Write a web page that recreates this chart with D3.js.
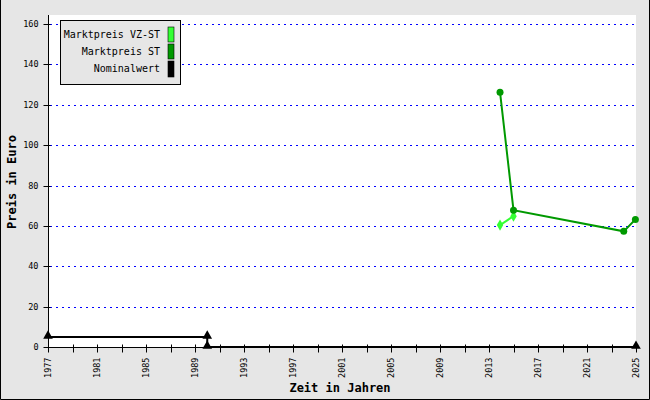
<!DOCTYPE html>
<html><head><meta charset="utf-8">
<script src="https://cdn.jsdelivr.net/npm/d3@7"></script>
<style>body{margin:0;background:#fff}svg{display:block}</style>
</head><body>
<script>
const seriesNames = ["Marktpreis VZ-ST", "Marktpreis ST", "Nominalwert"];
const seriesColors = ["#33ff33", "#009900", "#000000"];
const vzYears = [2013.9, 2015.0];
const vzValues = [60.4, 64.8];
const stYears = [2013.9, 2015.0, 2024.0, 2024.95];
const stValues = [126.2, 67.8, 57.3, 63.2];
const nomYears = [1977, 1990, 1990, 2025];
const nomValues = [5, 5, 0, 0];
const yTicks = [0, 20, 40, 60, 80, 100, 120, 140, 160];
const xTickYears = d3.range(1977, 2026, 2);
const xLabelYears = d3.range(1977, 2026, 4);

const W = 650, H = 400;
const svg = d3.select("body").append("svg").attr("width", W).attr("height", H);
const mono = "'DejaVu Sans Mono', 'Liberation Mono', monospace";

svg.append("rect").attr("width", W).attr("height", H).attr("fill", "#e6e6e6");
const L = 48, R = 636, T = 15, B = 347;
svg.append("rect").attr("x", L).attr("y", T).attr("width", R - L).attr("height", B - T).attr("fill", "#fff");
svg.append("path").attr("d", `M0.5,0 V${H-0.5} H${W-0.5} V0`).attr("fill", "none").attr("stroke", "#000");

const x = d3.scaleLinear().domain([1977, 2025]).range([L, R]);
const y = d3.scaleLinear().domain([0, 160]).range([B, 24]);

svg.append("g").selectAll("line").data(yTicks.filter(d => d > 0)).join("line")
  .attr("x1", L + 2).attr("x2", R).attr("y1", d => Math.round(y(d)) + 0.5).attr("y2", d => Math.round(y(d)) + 0.5)
  .attr("stroke", "#0000ff").attr("stroke-dasharray", "2,4");

const yAxis = svg.append("g").attr("transform", `translate(${L + 0.5},0)`)
  .call(d3.axisLeft(y).tickValues(yTicks).tickSize(5).tickSizeOuter(0).tickFormat(d3.format("d")));
yAxis.select(".domain").attr("d", `M0,${T}V${B}`);
yAxis.selectAll(".tick line").attr("x2", -5).attr("x1", 2);
yAxis.selectAll("text").attr("font-family", mono).attr("font-size", 8.5).attr("x", -10).attr("fill", "#000");
yAxis.selectAll(".tick").attr("transform", d => `translate(0,${Math.round(y(d)) + 0.5})`);

const xAxis = svg.append("g").attr("transform", `translate(0,${B + 0.5})`)
  .call(d3.axisBottom(x).tickValues(xTickYears).tickSize(5).tickSizeOuter(0).tickFormat(d => xLabelYears.includes(d) ? d : ""));
xAxis.select(".domain").attr("d", `M${L},0H${R}`);
xAxis.selectAll(".tick line").attr("y1", -3).attr("y2", 5);
xAxis.selectAll(".tick").attr("transform", d => `translate(${Math.round(x(d)) + 0.5},0)`);
xAxis.selectAll("text").attr("font-family", mono).attr("font-size", 8.5).attr("fill", "#000")
  .attr("transform", "rotate(-90)").attr("text-anchor", "end").attr("x", -10).attr("y", 0).attr("dy", "0.32em");

svg.append("text").attr("transform", "translate(16,182) rotate(-90)").attr("text-anchor", "middle")
  .attr("font-family", mono).attr("font-weight", "bold").attr("font-size", 12).text("Preis in Euro");
svg.append("text").attr("x", 340).attr("y", 392).attr("text-anchor", "middle")
  .attr("font-family", mono).attr("font-weight", "bold").attr("font-size", 12).text("Zeit in Jahren");

const line = d3.line().x(d => x(d[0])).y(d => y(d[1]));
const nom = nomYears.map((d, i) => [d, nomValues[i]]);
const st = stYears.map((d, i) => [d, stValues[i]]);
const vz = vzYears.map((d, i) => [d, vzValues[i]]);

svg.append("path").datum(nom).attr("d", line).attr("fill", "none").attr("stroke", seriesColors[2]).attr("stroke-width", 2);
svg.append("g").selectAll("path").data(nom).join("path")
  .attr("d", d3.symbol(d3.symbolTriangle, 40)).attr("transform", d => `translate(${x(d[0])},${y(d[1]) - 1})`).attr("fill", seriesColors[2]);

svg.append("path").datum(vz).attr("d", line).attr("fill", "none").attr("stroke", seriesColors[0]).attr("stroke-width", 2);
svg.append("g").selectAll("path").data(vz).join("path")
  .attr("d", d3.symbol(d3.symbolDiamond, 36)).attr("transform", d => `translate(${x(d[0])},${y(d[1])})`).attr("fill", seriesColors[0]);

svg.append("path").datum(st).attr("d", line).attr("fill", "none").attr("stroke", seriesColors[1]).attr("stroke-width", 2);
svg.append("g").selectAll("circle").data(st).join("circle")
  .attr("cx", d => x(d[0])).attr("cy", d => y(d[1])).attr("r", 3.5).attr("fill", seriesColors[1]);

const lg = svg.append("g");
lg.append("rect").attr("x", 60.5).attr("y", 20.5).attr("width", 120).attr("height", 64).attr("fill", "#e6e6e6").attr("stroke", "#000");
const rows = [[27, 15], [44, 15], [61, 16]];
seriesNames.forEach((n, i) => {
  lg.append("rect").attr("x", 168).attr("y", rows[i][0]).attr("width", 6).attr("height", rows[i][1]).attr("fill", seriesColors[i]).attr("stroke", "#000").attr("stroke-width", 0.6);
  lg.append("text").attr("x", 160).attr("y", rows[i][0] + 11).attr("text-anchor", "end")
    .attr("font-family", mono).attr("font-size", 10).text(n);
});
</script>
</body></html>
